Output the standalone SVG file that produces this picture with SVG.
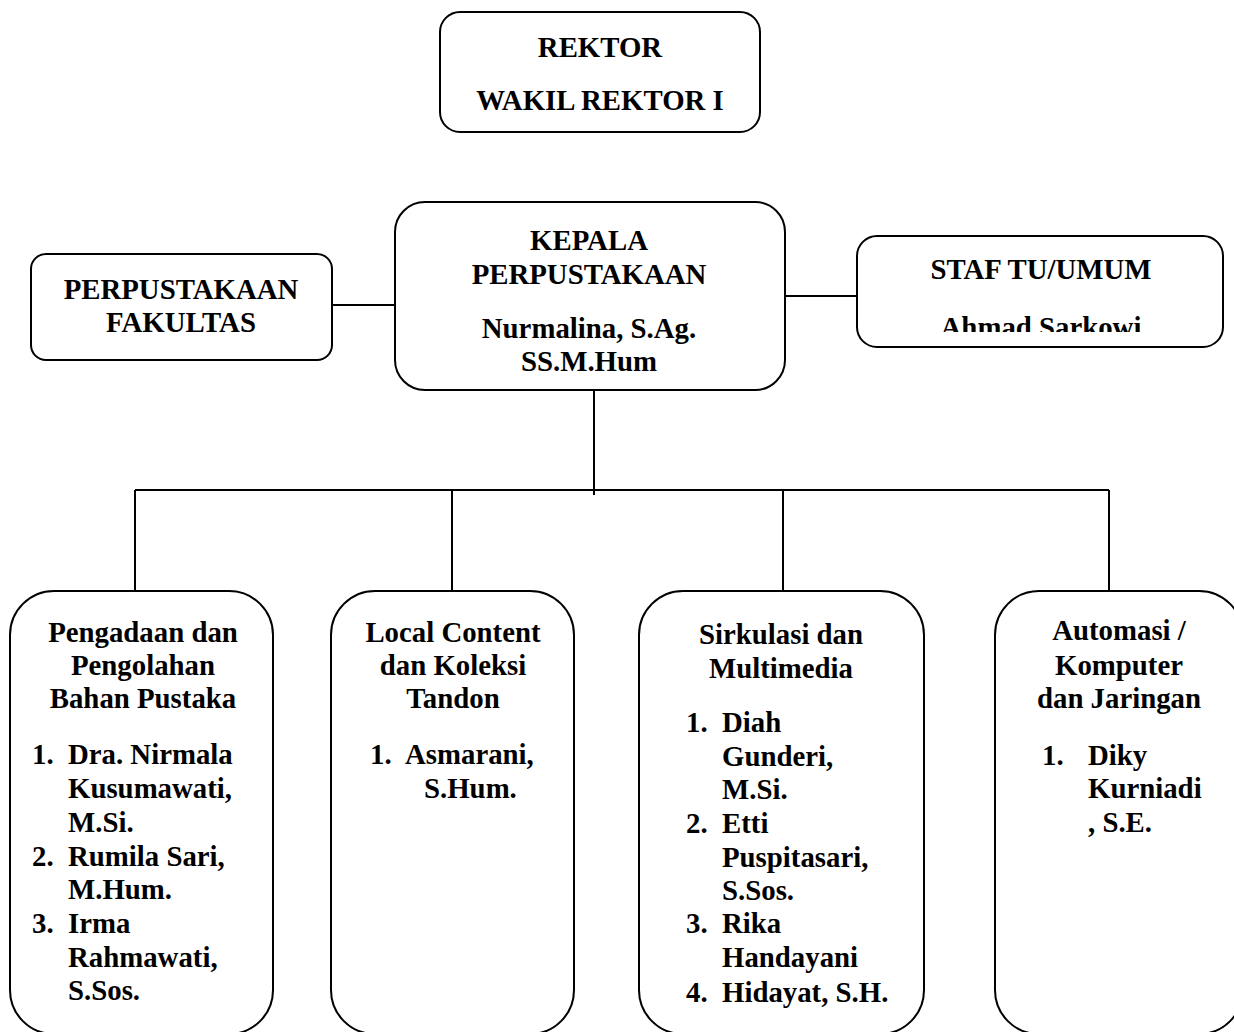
<svg xmlns="http://www.w3.org/2000/svg" width="1234" height="1032" viewBox="0 0 1234 1032">
<style>
.box{fill:#fff;stroke:#000;stroke-width:2}
.ln{stroke:#000;stroke-width:2;fill:none}
text{font-family:"Liberation Serif","Times New Roman",serif;font-weight:bold;font-size:28.8px;fill:#000}
.c{text-anchor:middle}
</style>
<defs>
<clipPath id="clipStaf"><rect x="857" y="236" width="366" height="96"/></clipPath>
</defs>
<rect width="1234" height="1032" fill="#fff"/>
<g id="connectors">
<line class="ln" x1="332" y1="305" x2="395" y2="305"/>
<line class="ln" x1="785" y1="296" x2="857" y2="296"/>
<line class="ln" x1="594" y1="390" x2="594" y2="495"/>
<line class="ln" x1="135" y1="490" x2="1109" y2="490"/>
<line class="ln" x1="135" y1="490" x2="135" y2="591"/>
<line class="ln" x1="452" y1="490" x2="452" y2="591"/>
<line class="ln" x1="783" y1="490" x2="783" y2="591"/>
<line class="ln" x1="1109" y1="490" x2="1109" y2="591"/>
</g>
<g id="rektor">
<rect class="box" x="440" y="12" width="320" height="120" rx="20"/>
<text class="c" x="600" y="57">REKTOR</text>
<text class="c" x="600" y="110">WAKIL REKTOR I</text>
</g>
<g id="perpustakaan-fakultas">
<rect class="box" x="31" y="254" width="301" height="106" rx="15"/>
<text class="c" x="181" y="299">PERPUSTAKAAN</text>
<text class="c" x="181" y="332">FAKULTAS</text>
</g>
<g id="kepala">
<rect class="box" x="395" y="202" width="390" height="188" rx="30"/>
<text class="c" x="589" y="250">KEPALA</text>
<text class="c" x="589" y="284">PERPUSTAKAAN</text>
<text class="c" x="589" y="338">Nurmalina, S.Ag.</text>
<text class="c" x="589" y="371">SS.M.Hum</text>
</g>
<g id="staf-tu">
<rect class="box" x="857" y="236" width="366" height="111" rx="20"/>
<text class="c" x="1041" y="279">STAF TU/UMUM</text>
<text class="c" x="1041" y="337" clip-path="url(#clipStaf)">Ahmad Sarkowi</text>
</g>
<g id="pengadaan">
<rect class="box" x="10" y="591" width="263" height="443" rx="44"/>
<text class="c" x="143" y="642">Pengadaan dan</text>
<text class="c" x="143" y="675">Pengolahan</text>
<text class="c" x="143" y="708">Bahan Pustaka</text>
<text x="32" y="764">1.</text><text x="68" y="764">Dra. Nirmala</text>
<text x="68" y="798">Kusumawati,</text>
<text x="68" y="832">M.Si.</text>
<text x="32" y="866">2.</text><text x="68" y="866">Rumila Sari,</text>
<text x="68" y="899">M.Hum.</text>
<text x="32" y="933">3.</text><text x="68" y="933">Irma</text>
<text x="68" y="967">Rahmawati,</text>
<text x="68" y="1000">S.Sos.</text>
</g>
<g id="local-content">
<rect class="box" x="331" y="591" width="243" height="443" rx="44"/>
<text class="c" x="453" y="642">Local Content</text>
<text class="c" x="453" y="675">dan Koleksi</text>
<text class="c" x="453" y="708">Tandon</text>
<text x="370" y="764">1.</text><text x="405" y="764">Asmarani,</text>
<text x="424" y="798">S.Hum.</text>
</g>
<g id="sirkulasi">
<rect class="box" x="639" y="591" width="285" height="443" rx="44"/>
<text class="c" x="781" y="644">Sirkulasi dan</text>
<text class="c" x="781" y="678">Multimedia</text>
<text x="686" y="732">1.</text><text x="722" y="732">Diah</text>
<text x="722" y="766">Gunderi,</text>
<text x="722" y="799">M.Si.</text>
<text x="686" y="833">2.</text><text x="722" y="833">Etti</text>
<text x="722" y="867">Puspitasari,</text>
<text x="722" y="900">S.Sos.</text>
<text x="686" y="933">3.</text><text x="722" y="933">Rika</text>
<text x="722" y="967">Handayani</text>
<text x="686" y="1002">4.</text><text x="722" y="1002">Hidayat, S.H.</text>
</g>
<g id="automasi">
<rect class="box" x="995" y="591" width="248" height="443" rx="44"/>
<text class="c" x="1119" y="640">Automasi /</text>
<text class="c" x="1119" y="675">Komputer</text>
<text class="c" x="1119" y="708">dan Jaringan</text>
<text x="1042" y="765">1.</text><text x="1088" y="765">Diky</text>
<text x="1088" y="798">Kurniadi</text>
<text x="1088" y="832">, S.E.</text>
</g>
</svg>
